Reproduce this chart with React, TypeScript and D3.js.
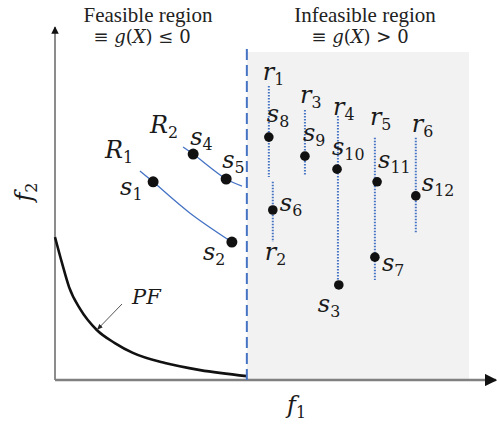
import React from 'react';
import * as d3 from 'd3';

// objective space values (f1, f2 in arbitrary units 0..100)
const pfF1 = [0, 1.6, 3.2, 5.7, 9.5, 13.6, 17.7, 25, 33, 43.6];
const pfF2 = [40.6, 33.2, 26.4, 20.2, 14.2, 10.5, 7.7, 4.8, 2.8, 1.1];

const r1CurveF1 = [19.3, 22.3, 30.7, 40.2];
const r1CurveF2 = [59.4, 56.3, 47.4, 39.2];
const r2CurveF1 = [29.1, 31.4, 38.9, 42.5];
const r2CurveF2 = [66.2, 64.2, 57.1, 55.1];

const solNames = ['1', '2', '3', '4', '5', '6', '7', '8', '9', '10', '11', '12'];
const solF1 = [22.3, 40.2, 64.5, 31.4, 38.9, 49.5, 72.7, 48.6, 56.8, 64.1, 73.2, 82.0];
const solF2 = [56.3, 39.2, 27.0, 64.2, 57.1, 48.3, 34.9, 69.0, 63.6, 59.9, 56.3, 52.3];

const rayNames = ['1', '2', '3', '4', '5', '6'];
const rayF1 = [48.6, 49.5, 56.8, 64.3, 72.7, 82.0];
const rayTop = [83.5, 56.3, 76.7, 75.0, 68.8, 68.8];
const rayBottom = [57.7, 39.2, 58.0, 25.6, 28.4, 42.0];

const boundaryF1 = 43.6;
const infeasibleMaxF1 = 94.1;
const infeasibleMaxF2 = 93.2;
const boundaryTopF2 = 94;

const W = 497;
const H = 426;

const x = d3.scaleLinear().domain([0, 100]).range([55, 495]);
const y = d3.scaleLinear().domain([0, 100]).range([380, 28]);

const BLUE = '#4472c4';
const MATH = '"DejaVu Serif", serif';

// label offsets in px (layout only)
const solOffset: Record<string, [number, number]> = {
  '1': [-33, 13], '2': [-29, 18], '3': [-21, 27], '4': [-3, -9],
  '5': [-4, -11], '6': [7, 1], '7': [7, 14], '8': [-2, -15],
  '9': [-2, -15], '10': [-5, -14], '11': [1, -14], '12': [6, -5],
};
const rayOffset: Record<string, [number, number]> = {
  '1': [-6, -6], '2': [-8, 18], '3': [-5, -7], '4': [-5, -1], '5': [-5, -13], '6': [-4, -6],
};

const Sym = ({ px, py, base, sub, size = 24 }: any) => (
  <text x={px} y={py} fontFamily={MATH} fontStyle="italic" fontSize={size} fill="#1a1a1a">
    {base}
    <tspan fontStyle="normal" fontSize={size * 0.66} dy={5}>{sub}</tspan>
  </text>
);

const curve = (xs: number[], ys: number[], c: d3.CurveFactory) =>
  d3.line<number>()
    .x((d, i) => x(xs[i]))
    .y((d, i) => y(ys[i]))
    .curve(c)(xs) || '';

export default function App() {
  const pfPath = curve(pfF1, pfF2, d3.curveMonotoneX);
  const r1Path = curve(r1CurveF1, r1CurveF2, d3.curveCatmullRom.alpha(0.5));
  const r2Path = curve(r2CurveF1, r2CurveF2, d3.curveCatmullRom.alpha(0.5));

  const bigDots = new Set(['1', '2', '4', '5']);

  return (
    <svg width={W} height={H} style={{ position: 'absolute', left: 0, top: 0, background: '#fff' }}>
      <defs>
        <marker id="ah" viewBox="0 0 10 10" refX="9" refY="5" markerWidth="5" markerHeight="5" orient="auto">
          <path d="M0,0 L10,5 L0,10 Z" fill="#111" />
        </marker>
        <marker id="ah2" viewBox="0 0 10 10" refX="9" refY="5" markerWidth="6" markerHeight="6" orient="auto">
          <path d="M0,1 L10,5 L0,9 Z" fill="#222" />
        </marker>
      </defs>

      {/* infeasible region */}
      <rect
        x={x(boundaryF1)}
        y={y(infeasibleMaxF2)}
        width={x(infeasibleMaxF1) - x(boundaryF1)}
        height={y(0) - y(infeasibleMaxF2)}
        fill="#f2f2f2"
      />

      {/* axes */}
      <line x1={x(0)} y1={y(0)} x2={x(0)} y2={27} stroke="#666" strokeWidth={1.5} markerEnd="url(#ah)" />
      <line x1={x(0)} y1={y(0)} x2={496} y2={y(0)} stroke="#808080" strokeWidth={2.5} markerEnd="url(#ah)" />

      {/* Pareto front */}
      <path d={pfPath} fill="none" stroke="#111" strokeWidth={2.6} />

      {/* boundary */}
      <line x1={x(boundaryF1)} x2={x(boundaryF1)} y1={y(0)} y2={y(boundaryTopF2)}
        stroke={BLUE} strokeWidth={2} strokeDasharray="11,5" />

      {/* reference curves */}
      <path d={r1Path} fill="none" stroke={BLUE} strokeWidth={1.3} />
      <path d={r2Path} fill="none" stroke={BLUE} strokeWidth={1.3} />

      {/* rays */}
      {rayNames.map((n, i) => (
        <line key={'r' + n} x1={x(rayF1[i])} x2={x(rayF1[i])} y1={y(rayTop[i])} y2={y(rayBottom[i])}
          stroke={BLUE} strokeWidth={2} strokeDasharray="1.5,1.5" />
      ))}
      {rayNames.map((n, i) => {
        const [dx, dy] = rayOffset[n];
        const py = n === '2' ? y(rayBottom[i]) : y(rayTop[i]);
        return <Sym key={'rl' + n} px={x(rayF1[i]) + dx} py={py + dy} base="r" sub={n} />;
      })}

      {/* solutions */}
      {solNames.map((n, i) => (
        <circle key={'s' + n} cx={x(solF1[i])} cy={y(solF2[i])} r={bigDots.has(n) ? 5.5 : 4.8} fill="#111" />
      ))}
      {solNames.map((n, i) => {
        const [dx, dy] = solOffset[n];
        return <Sym key={'sl' + n} px={x(solF1[i]) + dx} py={y(solF2[i]) + dy} base="s" sub={n} />;
      })}

      {/* R labels */}
      <Sym px={x(r1CurveF1[0]) - 35} py={y(r1CurveF2[0]) - 13} base="R" sub="1" />
      <Sym px={x(r2CurveF1[0]) - 33} py={y(r2CurveF2[0]) - 14} base="R" sub="2" />

      {/* PF annotation */}
      <line x1={122} y1={304} x2={x(pfF1[4]) + 0.5} y2={y(pfF2[4]) - 0.5} stroke="#555" strokeWidth={1} markerEnd="url(#ah2)" />
      <text x={132} y={304} fontFamily={MATH} fontStyle="italic" fontSize={21} fill="#1a1a1a">PF</text>

      {/* axis labels */}
      <Sym px={287} py={413} base="f" sub="1" />
      <g transform="translate(32,192) rotate(-90)">
        <text textAnchor="middle" fontFamily={MATH} fontStyle="italic" fontSize={24} fill="#1a1a1a">
          f<tspan fontStyle="normal" fontSize={16} dy={5}>2</tspan>
        </text>
      </g>

      {/* region titles */}
      <g fontFamily='"Liberation Serif", serif' fill="#222" textAnchor="middle">
        <text x={148} y={22} fontSize={21}>Feasible region</text>
        <text x={365} y={22} fontSize={21}>Infeasible region</text>
      </g>
      <g fontFamily={MATH} fill="#222" textAnchor="middle" fontSize={18}>
        <text x={142} y={43}>≡ <tspan fontStyle="italic">g</tspan>(<tspan fontStyle="italic">X</tspan>) ≤ 0</text>
        <text x={360} y={43}>≡ <tspan fontStyle="italic">g</tspan>(<tspan fontStyle="italic">X</tspan>) &gt; 0</text>
      </g>
    </svg>
  );
}
